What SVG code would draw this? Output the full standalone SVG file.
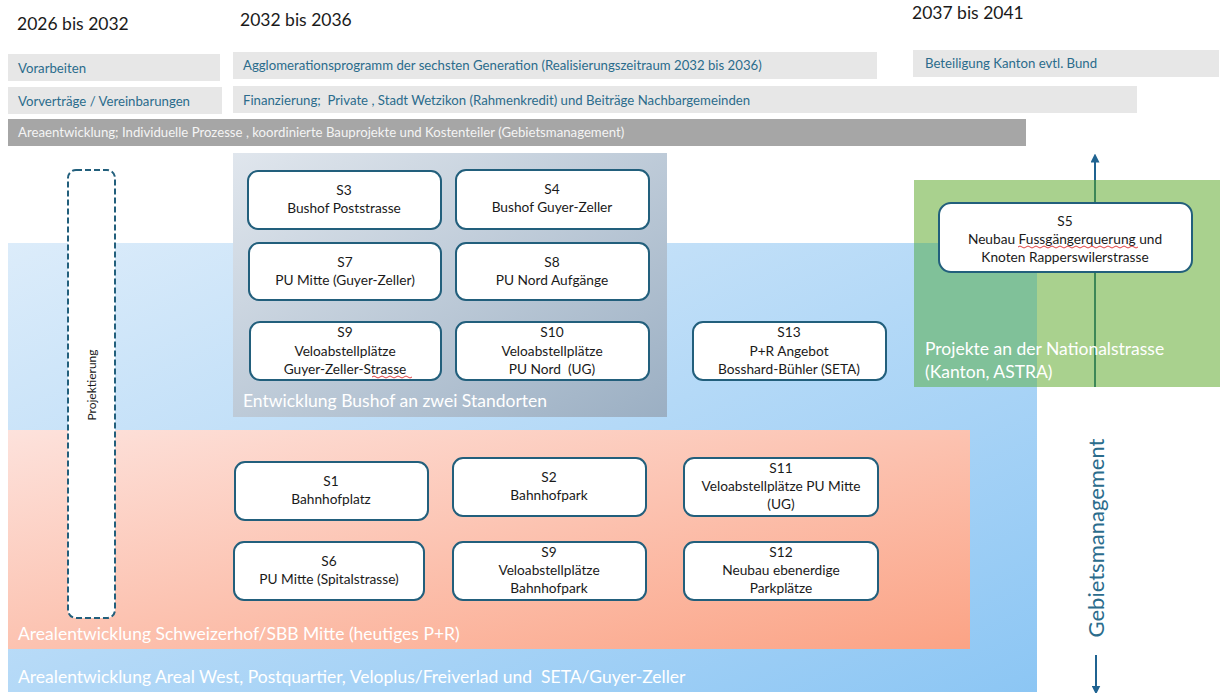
<svg xmlns="http://www.w3.org/2000/svg" width="1223" height="693" viewBox="0 0 1223 693">
<defs>
<linearGradient id="gBlue" x1="0" y1="0" x2="1" y2="1">
<stop offset="0" stop-color="#dcecfa"/><stop offset="1" stop-color="#8cc6f4"/>
</linearGradient>
<linearGradient id="gBus" x1="0" y1="0" x2="1" y2="1">
<stop offset="0" stop-color="#e0e6ed"/><stop offset="1" stop-color="#9bafc3"/>
</linearGradient>
<linearGradient id="gRed" x1="0" y1="0" x2="1" y2="1">
<stop offset="0" stop-color="#fde2dc"/><stop offset="1" stop-color="#fba385"/>
</linearGradient>
<marker id="ah" viewBox="0 0 10 10" refX="5" refY="5" markerWidth="9" markerHeight="9" orient="auto-start-reverse" markerUnits="userSpaceOnUse">
<path d="M0,0 L10,5 L0,10 z" fill="#1f6391"/>
</marker>
<style>
text{font-family:Lato,"Liberation Sans",sans-serif;}
.hdr{font-size:17.5px;fill:#1a1a1a;}
.bar{fill:#e7e7e7;}
.bt{font-size:13.2px;fill:#2b6c8c;}
.gt{font-size:13.2px;fill:#f4f4f4;}
.reg{font-size:17.5px;fill:#ffffff;}
.node rect{fill:#ffffff;stroke:#225f7c;stroke-width:2;}
.node text{font-size:13.7px;fill:#1a1a1a;text-anchor:middle;}
.squig{fill:none;stroke:#e04040;stroke-width:1;}
</style>
</defs>

<g id="headers">
<text class="hdr" x="17" y="30">2026 bis 2032</text>
<text class="hdr" x="240" y="26">2032 bis 2036</text>
<text class="hdr" x="912" y="19">2037 bis 2041</text>
</g>

<g id="bars">
<rect class="bar" x="8" y="54" width="212" height="27"/>
<text class="bt" x="18" y="73">Vorarbeiten</text>
<rect class="bar" x="233" y="52" width="644" height="27"/>
<text class="bt" x="243" y="70">Agglomerationsprogramm der sechsten Generation (Realisierungszeitraum 2032 bis 2036)</text>
<rect class="bar" x="913" y="50" width="306" height="27"/>
<text class="bt" x="925" y="68">Beteiligung Kanton evtl. Bund</text>
<rect class="bar" x="8" y="87" width="214" height="27"/>
<text class="bt" x="18" y="106">Vorverträge / Vereinbarungen</text>
<rect class="bar" x="233" y="86" width="904" height="27"/>
<text class="bt" x="243" y="105" xml:space="preserve">Finanzierung;  Private , Stadt Wetzikon (Rahmenkredit) und Beiträge Nachbargemeinden</text>
<rect x="8" y="119" width="1018" height="27" fill="#a6a6a6"/>
<text class="gt" x="18" y="137">Areaentwicklung; Individuelle Prozesse , koordinierte Bauprojekte und Kostenteiler (Gebietsmanagement)</text>
</g>

<g id="regions">
<rect id="region-west" x="8" y="243" width="1029" height="449" fill="url(#gBlue)"/>
<rect id="region-green" x="914" y="180" width="306" height="207" fill="#a9d18e"/>
<rect x="914" y="243" width="123" height="144" fill="#80c199"/>
<rect id="region-bushof" x="233" y="153" width="434" height="264" fill="url(#gBus)"/>
<rect id="region-schweizerhof" x="8" y="430" width="962" height="219" fill="url(#gRed)"/>
<text class="reg" x="243" y="407">Entwicklung Bushof an zwei Standorten</text>
<text class="reg" x="18" y="640">Arealentwicklung Schweizerhof/SBB Mitte (heutiges P+R)</text>
<text class="reg" x="18" y="683" xml:space="preserve">Arealentwicklung Areal West, Postquartier, Veloplus/Freiverlad und  SETA/Guyer-Zeller</text>
</g>

<g id="connectors">
<line x1="1095" y1="180" x2="1095" y2="158" stroke="#1f6391" stroke-width="2" marker-end="url(#ah)"/>
<line x1="1095" y1="180" x2="1095" y2="387" stroke="#3d8757" stroke-width="2"/>
<line x1="1096" y1="655" x2="1096" y2="690" stroke="#1f6391" stroke-width="2" marker-end="url(#ah)"/>
</g>

<g id="green-label">
<text class="reg" x="925" y="355">Projekte an der Nationalstrasse</text>
<text class="reg" x="925" y="378">(Kanton, ASTRA)</text>
</g>

<g id="gebietsmanagement">
<text x="0" y="0" transform="translate(1104,538) rotate(-90)" text-anchor="middle" font-size="22" fill="#2b6c8c">Gebietsmanagement</text>
</g>

<g id="projektierung">
<rect x="68" y="170" width="47" height="448" rx="8" fill="#ffffff" stroke="#225f7c" stroke-width="2" stroke-dasharray="6,3"/>
<text x="0" y="0" transform="translate(96,385) rotate(-90)" text-anchor="middle" font-size="12" fill="#1a1a1a">Projektierung</text>
</g>

<g id="S3" class="node"><rect x="248" y="171" width="193" height="58" rx="10"/><text x="344" y="195">S3</text><text x="344" y="213">Bushof Poststrasse</text></g>
<g id="S4" class="node"><rect x="456" y="170" width="193" height="59" rx="10"/><text x="552" y="194">S4</text><text x="552" y="212">Bushof Guyer-Zeller</text></g>
<g id="S7" class="node"><rect x="249" y="243" width="192" height="57" rx="10"/><text x="345" y="267">S7</text><text x="345" y="285">PU Mitte (Guyer-Zeller)</text></g>
<g id="S8" class="node"><rect x="456" y="243" width="193" height="57" rx="10"/><text x="552" y="267">S8</text><text x="552" y="285">PU Nord Aufgänge</text></g>
<g id="S9a" class="node"><rect x="250" y="322" width="191" height="58" rx="10"/><text x="345" y="337">S9</text><text x="345" y="356">Veloabstellplätze</text><text x="345" y="374">Guyer-Zeller-Strasse</text>
<path class="squig" d="M372,377 q2,-2 4,0 t4,0 t4,0 t4,0 t4,0 t4,0 t4,0 t4,0 t4,0 t4,0"/></g>
<g id="S10" class="node"><rect x="456" y="322" width="193" height="58" rx="10"/><text x="552" y="337">S10</text><text x="552" y="356">Veloabstellplätze</text><text x="552" y="374" xml:space="preserve">PU Nord  (UG)</text></g>
<g id="S13" class="node"><rect x="693" y="322" width="193" height="58" rx="10"/><text x="789" y="337">S13</text><text x="789" y="356">P+R Angebot</text><text x="789" y="374">Bosshard-Bühler (SETA)</text></g>
<g id="S5" class="node"><rect x="939" y="203" width="253" height="69" rx="12"/><text x="1065" y="226">S5</text><text x="1065" y="244">Neubau Fussgängerquerung und</text><text x="1065" y="262">Knoten Rapperswilerstrasse</text>
<path class="squig" d="M1018,247 q2,-2 4,0 t4,0 t4,0 t4,0 t4,0 t4,0 t4,0 t4,0 t4,0 t4,0 t4,0 t4,0 t4,0 t4,0 t4,0 t4,0 t4,0 t4,0 t4,0 t4,0 t4,0 t4,0 t4,0 t4,0 t4,0 t4,0 t4,0 t4,0 t4,0 t4,0"/></g>
<g id="S1" class="node"><rect x="235" y="462" width="193" height="58" rx="10"/><text x="331" y="486">S1</text><text x="331" y="504">Bahnhofplatz</text></g>
<g id="S2" class="node"><rect x="453" y="458" width="193" height="58" rx="10"/><text x="549" y="482">S2</text><text x="549" y="500">Bahnhofpark</text></g>
<g id="S11" class="node"><rect x="684" y="458" width="194" height="58" rx="10"/><text x="781" y="473">S11</text><text x="781" y="491">Veloabstellplätze PU Mitte</text><text x="781" y="509">(UG)</text></g>
<g id="S6" class="node"><rect x="234" y="542" width="190" height="58" rx="10"/><text x="329" y="566">S6</text><text x="329" y="584">PU Mitte (Spitalstrasse)</text></g>
<g id="S9b" class="node"><rect x="453" y="542" width="193" height="58" rx="10"/><text x="549" y="557">S9</text><text x="549" y="575">Veloabstellplätze</text><text x="549" y="593">Bahnhofpark</text></g>
<g id="S12" class="node"><rect x="684" y="542" width="194" height="58" rx="10"/><text x="781" y="557">S12</text><text x="781" y="575">Neubau ebenerdige</text><text x="781" y="593">Parkplätze</text></g>
</svg>
